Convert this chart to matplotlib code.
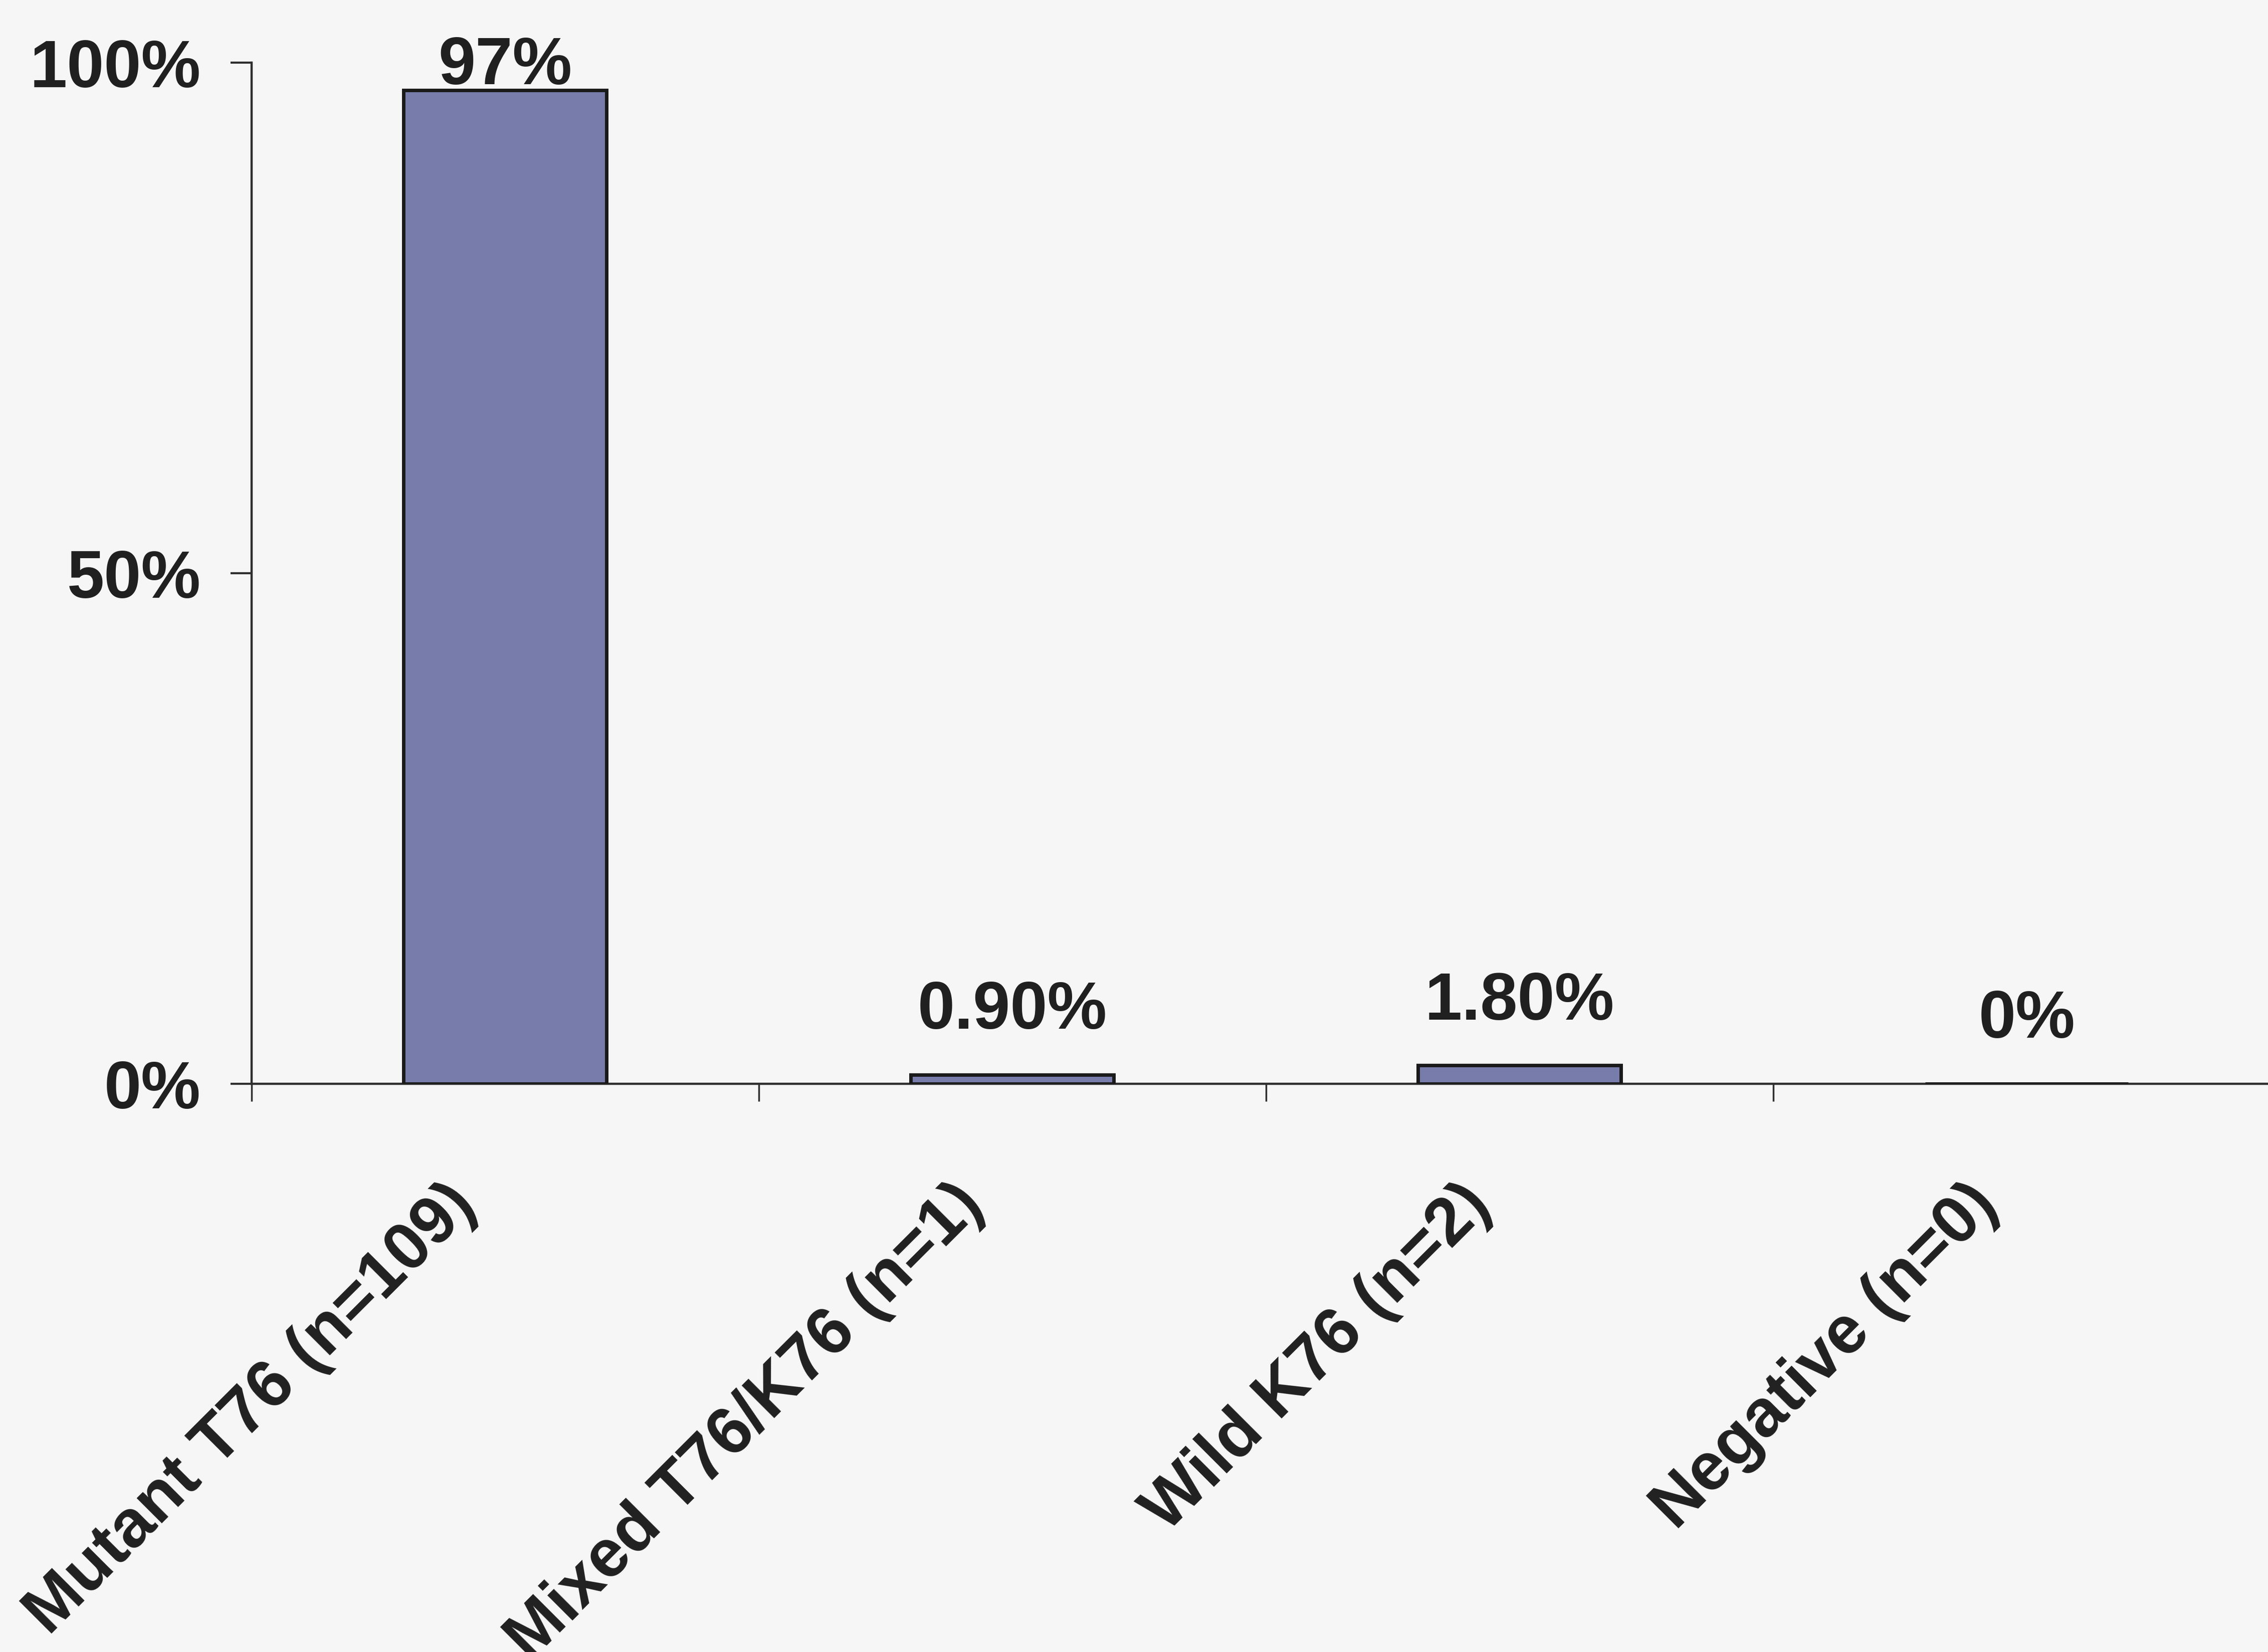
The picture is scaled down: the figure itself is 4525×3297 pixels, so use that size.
import numpy as np
import matplotlib
matplotlib.use('Agg')
import matplotlib.pyplot as plt
from matplotlib.transforms import ScaledTranslation

##########
## DATA ##
##########

categories = ['Mutant T76 (n=109)', 'Mixed T76/K76 (n=1)', 'Wild K76 (n=2)', 'Negative (n=0)']
percent = [97.3, 0.9, 1.8, 0.0]
value_labels = ['97%', '0.90%', '1.80%', '0%']
y_ticks = [0, 50, 100]

###########
## STYLE ##
###########

bg = '#f6f6f6'
bar_col = '#787cab'
ink = '#202020'
axis_col = '#2e2e2e'
fsize = 96

plt.rcParams['font.family'] = ['Liberation Sans', 'DejaVu Sans']
plt.rcParams['font.weight'] = 'bold'

##########
## PLOT ##
##########

fig = plt.figure(figsize=(45.25, 32.97), dpi=100, facecolor=bg)
ax = fig.add_axes([0.1109, 0.3439, 0.8946, 0.6181])
ax.set_facecolor(bg)

x = np.arange(len(categories))
ax.bar(x, percent, width=0.4, color=bar_col, edgecolor='#1a1a1a', linewidth=5, zorder=3)

ax.set_xlim(-0.5, len(categories) - 0.5)
ax.set_ylim(0, 100)

for side in ['top', 'right']:
    ax.spines[side].set_visible(False)
for side in ['left', 'bottom']:
    ax.spines[side].set_linewidth(3.2)
    ax.spines[side].set_color(axis_col)

ax.set_yticks(y_ticks)
ax.set_yticklabels([f'{t}%' for t in y_ticks], fontsize=fsize, fontweight='bold', color=ink)
ax.tick_params(axis='y', length=30, width=3, pad=43, color=axis_col)

# ticks sit on category boundaries, labels are drawn by hand
ax.set_xticks(np.arange(len(categories) + 1) - 0.5)
ax.set_xticklabels([])
ax.tick_params(axis='x', length=25, width=2.5, color=axis_col)

# value labels above bars, kept inside the plot area
for xi, v, lab in zip(x, percent, value_labels):
    ax.text(xi, min(v + 4.5, 97.9), lab, ha='center', va='baseline',
            fontsize=fsize, fontweight='bold', color=ink, zorder=4)

# rotated category labels
offset = ScaledTranslation(-0.78, -2.22, fig.dpi_scale_trans)
for xi, cat in zip(x, categories):
    ax.text(xi, 0, cat, transform=ax.get_xaxis_transform() + offset,
            rotation=45, rotation_mode='anchor', ha='right', va='center',
            fontsize=fsize, fontweight='bold', color=ink, clip_on=False)

fig.savefig('out.png', dpi=100, facecolor=bg)
